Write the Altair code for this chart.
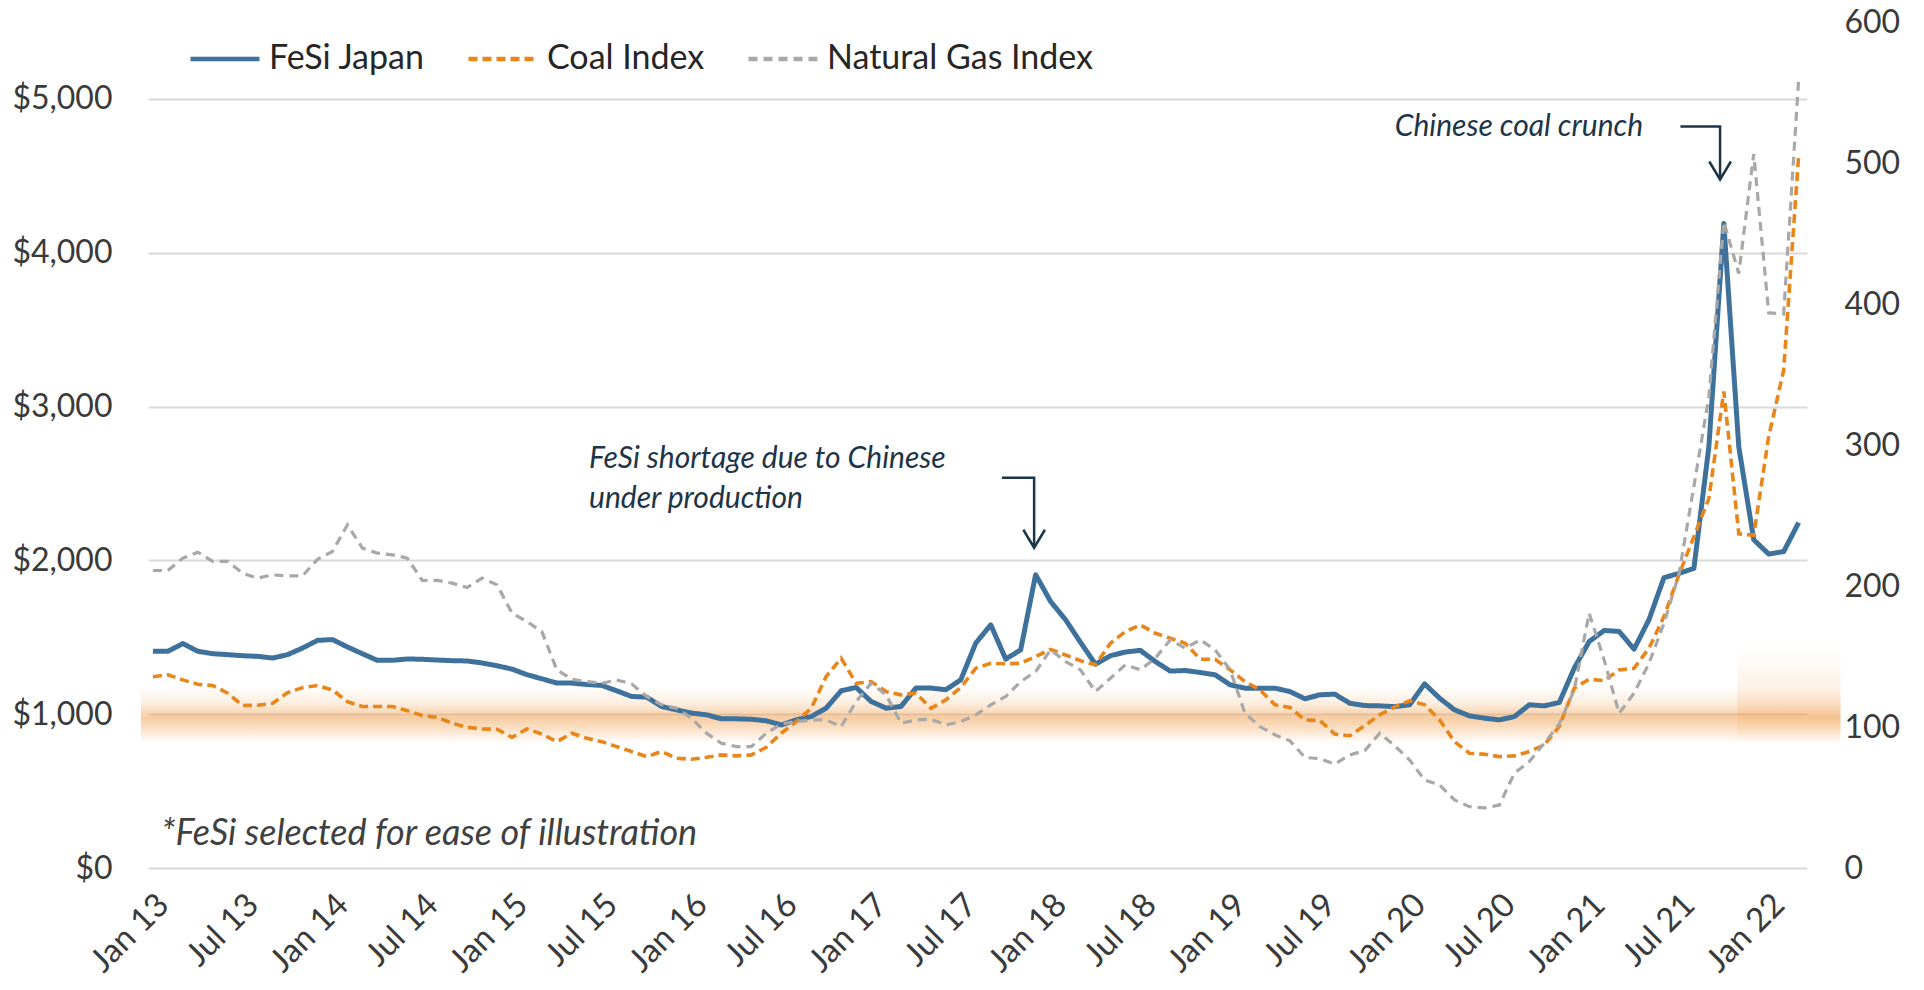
import altair as alt
import pandas as pd

# ---------------- data (monthly, Jan 2013 .. Mar 2022) ----------------
fesi_japan = [
    1409, 1409, 1459, 1409, 1393, 1387, 1380, 1376, 1365, 1387, 1430, 1480,
    1485, 1437, 1393, 1350, 1350, 1359, 1357, 1352, 1348, 1346, 1333, 1315,
    1293, 1257, 1230, 1202, 1202, 1193, 1187, 1152, 1115, 1111, 1050, 1028,
    1007, 996, 970, 970, 967, 957, 930, 963, 985, 1039, 1152, 1174,
    1083, 1039, 1050, 1170, 1170, 1159, 1224, 1462, 1581, 1358, 1418, 1907,
    1733, 1614, 1467, 1325, 1380, 1404, 1415, 1342, 1280, 1284, 1271, 1256,
    1191, 1169, 1169, 1169, 1147, 1100, 1126, 1130, 1071, 1056, 1054, 1049,
    1061, 1197, 1104, 1028, 989, 974, 963, 984, 1061, 1054, 1076, 1299,
    1472, 1544, 1538, 1423, 1615, 1888, 1915, 1948, 2738, 4190, 2738, 2134,
    2041, 2057, 2245,
]
coal_index = [
    135.7, 137.0, 133.4, 130.3, 129.4, 124.0, 115.2, 115.4, 116.8, 124.4, 127.9, 129.4,
    126.3, 118.0, 114.5, 114.5, 114.5, 111.6, 108.1, 106.9, 102.7, 99.8, 98.6, 98.4,
    92.7, 98.6, 95.0, 89.6, 95.6, 92.0, 89.6, 86.1, 82.6, 79.0, 82.6, 77.8,
    77.1, 78.5, 80.2, 79.5, 80.2, 85.6, 95.6, 103.8, 113.3, 135.8, 148.8, 131.0,
    132.2, 125.1, 122.8, 124.0, 113.3, 119.2, 128.0, 141.7, 145.2, 144.8, 145.2, 150.0,
    155.0, 151.1, 147.0, 144.1, 159.4, 167.7, 172.4, 166.5, 163.0, 159.4, 148.1, 148.0,
    140.5, 132.2, 126.3, 115.7, 113.8, 105.0, 104.6, 95.0, 93.8, 101.0, 108.6, 114.2,
    118.6, 115.7, 105.0, 89.6, 81.4, 80.7, 79.0, 79.5, 82.6, 87.3, 100.3, 127.5,
    133.9, 132.9, 140.5, 141.7, 155.9, 178.3, 207.9, 235.0, 262.0, 338.0, 237.0, 236.0,
    306.0, 353.0, 505.0,
]
natural_gas_index = [
    211.0, 211.0, 219.8, 224.0, 217.4, 217.4, 209.0, 205.6, 207.9, 207.2, 207.2, 218.9,
    224.5, 243.4, 226.9, 223.3, 222.1, 219.8, 203.9, 204.0, 202.0, 198.9, 205.6, 200.8,
    180.7, 174.8, 167.5, 140.5, 133.9, 132.2, 131.0, 133.4, 130.6, 121.6, 115.7, 113.3,
    106.2, 95.6, 88.5, 86.1, 86.1, 95.6, 102.2, 103.8, 105.0, 105.0, 100.3, 118.0,
    131.0, 122.8, 102.7, 105.0, 105.5, 101.5, 103.8, 108.6, 115.7, 121.6, 132.2, 139.3,
    154.7, 146.4, 140.5, 125.1, 134.6, 144.1, 140.5, 148.8, 161.8, 155.9, 161.8, 154.7,
    140.5, 109.7, 100.3, 94.4, 90.2, 78.4, 77.5, 73.7, 80.2, 83.2, 95.6, 86.7,
    76.6, 62.4, 58.9, 48.3, 43.5, 42.6, 44.7, 67.2, 75.5, 88.5, 102.1, 126.3,
    180.7, 147.6, 109.7, 124.0, 145.2, 173.6, 208.3, 270.8, 334.1, 458.3, 421.6, 506.5,
    393.7, 392.9, 559.0,
]
month_index = list(range(len(fesi_japan)))          # 0 = Jan 13
tick_months = list(range(0, 109, 6))                 # Jan 13, Jul 13, ... Jan 22
left_ticks = [0, 1000, 2000, 3000, 4000, 5000]
right_ticks = [0, 100, 200, 300, 400, 500, 600]

series_names = ["FeSi Japan", "Coal Index", "Natural Gas Index"]
series_colors = ["#3E719B", "#E8861C", "#A8A8A8"]
series_dash = [[1, 0], [9, 5], [9, 6]]

annot_text = ["FeSi shortage due to Chinese", "under production", "Chinese coal crunch"]
annot_x = [29.15, 29.15, 83.0]
annot_y = [2602, 2342, 4756]
note_text = "*FeSi selected for ease of illustration"

# arrows (month index, left-axis value)
arrow_id = ["a", "a", "a", "b", "b", "b"]
arrow_x = [56.75, 58.9, 58.9, 102.1, 104.75, 104.75]
arrow_y = [2537, 2537, 2082, 4821, 4821, 4476]
arrow_order = [0, 1, 2, 0, 1, 2]

# ---------------- frames ----------------
df_fesi = pd.DataFrame({"m": month_index, "v": fesi_japan, "s": "FeSi Japan"})
df_coal = pd.DataFrame({"m": month_index, "v": coal_index, "s": "Coal Index"})
df_gas = pd.DataFrame({"m": month_index, "v": natural_gas_index, "s": "Natural Gas Index"})
df_annot = pd.DataFrame({"m": annot_x, "v": annot_y, "t": annot_text})
df_note = pd.DataFrame({"m": [0.55], "v": [150], "t": [note_text]})
df_arrow = pd.DataFrame({"m": arrow_x, "v": arrow_y, "a": arrow_id, "o": arrow_order})
df_head = df_arrow[df_arrow["o"] == 2]
df_band = pd.DataFrame({"m": [-0.8], "m2": [112.8], "v": [813], "v2": [1178]})
df_band2 = pd.DataFrame({"m": [105.9], "m2": [112.8], "v": [820], "v2": [1431]})

FONT = "Lato"
NAVY = "#1D3549"
X_DOMAIN = [-0.33, 110.56]
L_DOMAIN = [0, 5500]
R_DOMAIN = [0, 600]

label_expr = "(datum.value % 12 == 0 ? 'Jan ' : 'Jul ') + (13 + floor(datum.value / 12))"

x_axis = alt.Axis(
    values=tick_months, labelExpr=label_expr, labelAngle=-45,
    labelAlign="right", labelBaseline="top", labelPadding=20, labelOffset=-1,
    grid=False, domain=False, ticks=False, labelFont=FONT, labelFontSize=33,
    labelColor="#3A3A3A", labelOverlap=False,
)
x_enc = alt.X("m:Q", title=None, scale=alt.Scale(domain=X_DOMAIN, nice=False, zero=False), axis=x_axis)


def y_left(axis=None):
    return alt.Y("v:Q", title=None, scale=alt.Scale(domain=L_DOMAIN, nice=False, zero=True), axis=axis)


def y_right(axis=None):
    return alt.Y("v:Q", title=None, scale=alt.Scale(domain=R_DOMAIN, nice=False, zero=True), axis=axis)


left_axis = alt.Axis(
    orient="left", values=left_ticks, format="$,.0f", grid=True, gridColor="#D9D9D9",
    gridWidth=2, domain=False, ticks=False, labelPadding=36, labelFont=FONT,
    labelFontSize=32, labelColor="#3A3A3A",
)
right_axis = alt.Axis(
    orient="right", values=right_ticks, format="d", grid=False, domain=False, ticks=False,
    labelPadding=37, labelFont=FONT, labelFontSize=32, labelColor="#3A3A3A",
)

legend = alt.Legend(
    title=None, orient="none", legendX=40, legendY=0, direction="horizontal",
    symbolType="stroke", symbolSize=4761, symbolStrokeWidth=4.5, labelFont=FONT,
    labelFontSize=34, labelColor="#262626", labelOffset=7, columnPadding=34,
    labelLimit=400,
)
color_enc = alt.Color("s:N", scale=alt.Scale(domain=series_names, range=series_colors), legend=legend)
dash_enc = alt.StrokeDash("s:N", scale=alt.Scale(domain=series_names, range=series_dash), legend=legend)


def glow(stops):
    return alt.Gradient(
        gradient="linear", x1=0, x2=0, y1=0, y2=1,
        stops=[alt.GradientStop(color=f"rgba(240,155,70,{a})", offset=o) for o, a in stops],
    )


band = alt.Chart(df_band).mark_rect(
    fill=glow([(0, 0), (0.3, 0.18), (0.55, 0.5), (0.75, 0.3), (1, 0)])
).encode(x=x_enc, x2="m2:Q", y=y_left(), y2="v2:Q")

band2 = alt.Chart(df_band2).mark_rect(
    fill=glow([(0, 0), (0.4, 0.12), (0.7, 0.22), (1, 0)])
).encode(x=x_enc, x2="m2:Q", y=y_left(), y2="v2:Q")

fesi_line = alt.Chart(df_fesi).mark_line(strokeWidth=5, strokeJoin="round").encode(
    x=x_enc, y=y_left(left_axis), color=color_enc, strokeDash=dash_enc
)
coal_line = alt.Chart(df_coal).mark_line(strokeWidth=3.6).encode(
    x=x_enc, y=y_right(right_axis), color=color_enc, strokeDash=dash_enc
)
gas_line = alt.Chart(df_gas).mark_line(strokeWidth=3.2).encode(
    x=x_enc, y=y_right(), color=color_enc, strokeDash=dash_enc
)

arrows = alt.Chart(df_arrow).mark_line(color=NAVY, strokeWidth=2.5).encode(
    x=x_enc, y=y_left(), detail="a:N", order="o:Q"
)
heads = alt.Chart(df_head).mark_point(
    shape="M-0.6,-1L0,0L0.6,-1", size=1296, filled=False, color=NAVY, strokeWidth=2.5, opacity=1
).encode(x=x_enc, y=y_left())

annots = alt.Chart(df_annot).mark_text(
    align="left", baseline="alphabetic", font=FONT, fontStyle="italic", fontSize=30, color=NAVY
).encode(x=x_enc, y=y_left(), text="t:N")

note = alt.Chart(df_note).mark_text(
    align="left", baseline="alphabetic", font=FONT, fontStyle="italic", fontSize=36, color="#404040"
).encode(x=x_enc, y=y_left(), text="t:N")

chart = alt.layer(
    band, band2, fesi_line, coal_line, gas_line, arrows, heads, annots, note
).resolve_scale(y="independent").properties(
    width=1659, height=846,
    autosize=alt.AutoSizeParams(type="none"),
    padding={"left": 140, "top": 14, "right": 100, "bottom": 120},
    background="white",
).configure_view(stroke=None)

chart.save("out.html", embed_options={"renderer": "svg", "actions": False})
